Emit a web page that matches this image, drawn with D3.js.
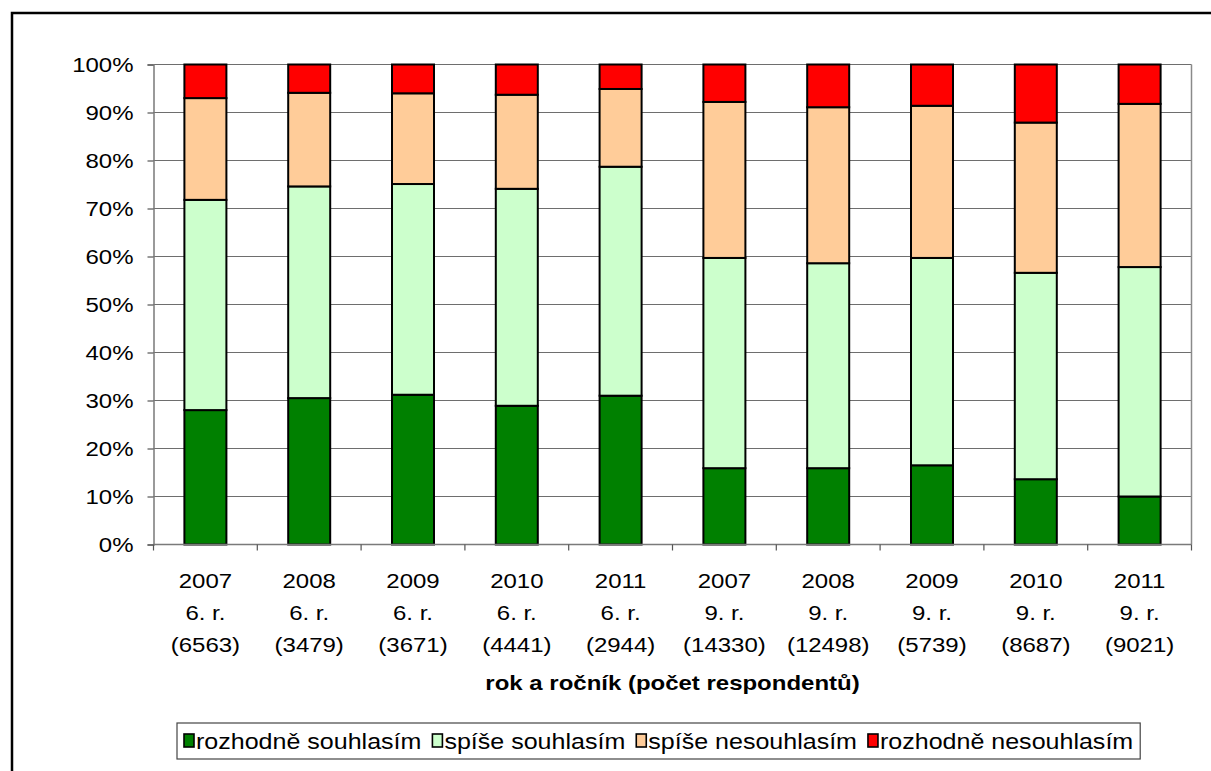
<!DOCTYPE html>
<html>
<head>
<meta charset="utf-8">
<script src="https://cdn.jsdelivr.net/npm/d3@7"></script>
<style>
  html, body { margin: 0; padding: 0; background: #fff; }
  svg { display: block; }
  text { font-family: "Liberation Sans", Arial, sans-serif; fill: #000; }
</style>
</head>
<body>
<svg id="chart" width="1211" height="771"></svg>
<script>
// Survey answers by year and grade (percent of respondents)
const years  = ["2007", "2008", "2009", "2010", "2011", "2007", "2008", "2009", "2010", "2011"];
const grades = ["6. r.", "6. r.", "6. r.", "6. r.", "6. r.", "9. r.", "9. r.", "9. r.", "9. r.", "9. r."];
const counts = ["(6563)", "(3479)", "(3671)", "(4441)", "(2944)", "(14330)", "(12498)", "(5739)", "(8687)", "(9021)"];

const seriesNames = ["rozhodně souhlasím", "spíše souhlasím", "spíše nesouhlasím", "rozhodně nesouhlasím"];
const rozhodneSouhlasim   = [28.0, 30.5, 31.2, 28.9, 31.0, 15.9, 15.9, 16.5, 13.6, 10.0];
const spiseSouhlasim      = [43.8, 44.1, 43.9, 45.2, 47.7, 43.8, 42.7, 43.2, 43.0, 47.8];
const spiseNesouhlasim    = [21.2, 19.5, 18.9, 19.6, 16.2, 32.5, 32.5, 31.7, 31.3, 34.0];
const rozhodneNesouhlasim = [7.0, 5.9, 6.0, 6.3, 5.1, 7.8, 8.9, 8.6, 12.1, 8.2];
const yTickValues = [0, 10, 20, 30, 40, 50, 60, 70, 80, 90, 100];
const colors = ["#008000", "#CCFFCC", "#FFCC99", "#FF0000"];

const axisTitle = "rok a ročník (počet respondentů)";

// Text in this chart is slightly widened horizontally
const SX = 1.17;
const FONT = 20.5;
const LEGEND_FONT = 21.4;

const svg = d3.select("#chart");

// Outer frame (runs off the right and bottom edges)
svg.append("rect")
  .attr("x", 12).attr("y", 13)
  .attr("width", 1260).attr("height", 820)
  .attr("fill", "none").attr("stroke", "#000").attr("stroke-width", 2.5);

const plot = { left: 153.5, right: 1191.5, top: 64.5, bottom: 544.5 };

// Build rows for the stack layout
const rows = years.map((y, i) => ({
  idx: i,
  s0: rozhodneSouhlasim[i],
  s1: spiseSouhlasim[i],
  s2: spiseNesouhlasim[i],
  s3: rozhodneNesouhlasim[i]
}));
const keys = ["s0", "s1", "s2", "s3"];
const stacked = d3.stack().keys(keys)(rows);

const barFrac = 42 / ((plot.right - plot.left) / years.length);
const x = d3.scaleBand()
  .domain(d3.range(years.length))
  .range([plot.left, plot.right])
  .paddingInner(1 - barFrac)
  .paddingOuter((1 - barFrac) / 2);

const y = d3.scaleLinear().domain([0, 100]).range([plot.bottom, plot.top]);

// Horizontal gridlines
svg.append("g")
  .selectAll("line")
  .data(yTickValues.slice(1))
  .join("line")
  .attr("x1", plot.left).attr("x2", plot.right)
  .attr("y1", d => y(d)).attr("y2", d => y(d))
  .attr("stroke", "#6e6e6e").attr("stroke-width", 1.2);

// Right border of plot area
svg.append("line")
  .attr("x1", plot.right).attr("x2", plot.right)
  .attr("y1", plot.top).attr("y2", plot.bottom)
  .attr("stroke", "#8a8a8a").attr("stroke-width", 1.5);

// Stacked bars
svg.append("g")
  .selectAll("g")
  .data(stacked)
  .join("g")
  .attr("fill", (d, i) => colors[i])
  .selectAll("rect")
  .data(d => d)
  .join("rect")
  .attr("x", d => x(d.data.idx))
  .attr("width", x.bandwidth())
  .attr("y", d => y(d[1]))
  .attr("height", d => y(d[0]) - y(d[1]))
  .attr("stroke", "#000")
  .attr("stroke-width", 2);

// Y axis
const yAxis = svg.append("g")
  .attr("transform", `translate(${plot.left},0)`)
  .call(d3.axisLeft(y).tickValues(yTickValues).tickSize(6).tickPadding(0)
    .tickFormat(d => d + "%"));
yAxis.select(".domain").attr("stroke", "#7a7a7a").attr("stroke-width", 1.5);
yAxis.selectAll(".tick line").attr("stroke", "#555").attr("stroke-width", 1.2);
yAxis.selectAll(".tick text")
  .attr("font-size", FONT)
  .attr("font-family", "Liberation Sans, Arial, sans-serif")
  .attr("x", 0).attr("dy", "0.35em")
  .attr("transform", `translate(-20,0) scale(${SX},1)`);

// X axis line with ticks at category boundaries
const bounds = d3.range(years.length + 1).map(i => plot.left + i * x.step());
svg.append("line")
  .attr("x1", plot.left).attr("x2", plot.right)
  .attr("y1", plot.bottom).attr("y2", plot.bottom)
  .attr("stroke", "#7a7a7a").attr("stroke-width", 1.5);
svg.append("g")
  .selectAll("line")
  .data(bounds)
  .join("line")
  .attr("x1", d => d).attr("x2", d => d)
  .attr("y1", plot.bottom).attr("y2", plot.bottom + 6)
  .attr("stroke", "#555").attr("stroke-width", 1.2);

// Category labels (three lines each)
const catG = svg.append("g")
  .selectAll("g")
  .data(d3.range(years.length))
  .join("g")
  .attr("transform", i => `translate(${x(i) + x.bandwidth() / 2},0)`);
[[years, 587.5], [grades, 619.5], [counts, 651.5]].forEach(([arr, yy]) => {
  catG.append("text")
    .attr("transform", `translate(0,${yy}) scale(${SX},1)`)
    .attr("text-anchor", "middle")
    .attr("font-size", FONT)
    .text(i => arr[i]);
});

// Axis title
svg.append("text")
  .attr("transform", `translate(${(plot.left + plot.right) / 2},690) scale(${SX},1)`)
  .attr("text-anchor", "middle")
  .attr("font-size", FONT)
  .attr("font-weight", "bold")
  .text(axisTitle);

// Legend
const legend = svg.append("g");
const legBox = legend.append("rect")
  .attr("fill", "#fff").attr("stroke", "#444").attr("stroke-width", 1.2);
let lx = 184;
const ly = 741;
const items = legend.selectAll("g.item")
  .data(seriesNames)
  .join("g").attr("class", "item");
items.each(function (name, i) {
  const g = d3.select(this);
  g.append("rect")
    .attr("x", lx).attr("y", ly - 7)
    .attr("width", 10).attr("height", 13)
    .attr("fill", colors[i]).attr("stroke", "#000").attr("stroke-width", 1.6);
  const t = g.append("text")
    .attr("transform", `translate(${lx + 12},${ly + 8}) scale(${SX},1)`)
    .attr("font-size", LEGEND_FONT)
    .text(name);
  const w = t.node().getComputedTextLength() * SX;
  lx += 12 + w + 11;
});
legBox.attr("x", 177).attr("y", 723).attr("width", lx - 177 - 4).attr("height", 36);
</script>
</body>
</html>
